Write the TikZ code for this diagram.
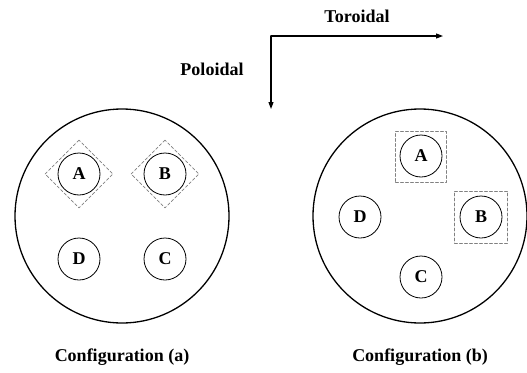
\documentclass[tikz,border=0pt]{standalone}
\usepackage{fontspec}
\setmainfont{Liberation Serif}
\usetikzlibrary{arrows.meta}

\begin{document}
\begin{tikzpicture}[line cap=round,line join=round,>={Triangle[length=7pt,width=5pt]},x=1pt,y=-1pt,
  font=\fontsize{18}{20}\selectfont\bfseries,
  vessel/.style={circle,draw,line width=1.3pt,minimum size=214pt,inner sep=0pt},
  coil/.style={circle,draw,line width=0.8pt,minimum size=42pt,inner sep=0pt},
  probe/.style={draw=gray,line width=0.7pt,dash pattern=on 3pt off 2pt,inner sep=0pt}]
            \useasboundingbox (0,0) rectangle (527,372);
            % direction arrows
            \coordinate (corner) at (271,36);
            \coordinate (tor) at (443,36);
            \coordinate (pol) at (271,109);
            \draw [->,line width=1.1pt] (corner) -- (tor);
            \draw [->,line width=1.1pt] (corner) -- (pol);
            \node (torlabel) at (357,16) {Toroidal};
            \node (pollabel) at (212,69) {Poloidal};
            % configuration (a)
            \node [vessel] (vesa) at (122,216) {};
            \node [probe,minimum size=48pt,rotate=45] (boxa1) at (79,174) {};
            \node [probe,minimum size=48pt,rotate=45] (boxb1) at (165,174) {};
            \node [coil] (a1) at (79,174) {A};
            \node [coil] (b1) at (165,174) {B};
            \node [coil] (d1) at (79,259) {D};
            \node [coil] (c1) at (165,259) {C};
            \node (capa) at (122,357) {Configuration (a)};
            % configuration (b)
            \node [vessel] (vesb) at (420,216) {};
            \node [probe,minimum width=51pt,minimum height=51pt] (boxa2) at (421,157) {};
            \node [probe,minimum width=53pt,minimum height=52pt] (boxb2) at (481,217) {};
            \node [coil] (a2) at (421,156) {A};
            \node [coil] (b2) at (481,217) {B};
            \node [coil] (d2) at (360,217) {D};
            \node [coil] (c2) at (421,277) {C};
            \node (capb) at (420,357) {Configuration (b)};
\end{tikzpicture}
\end{document}
